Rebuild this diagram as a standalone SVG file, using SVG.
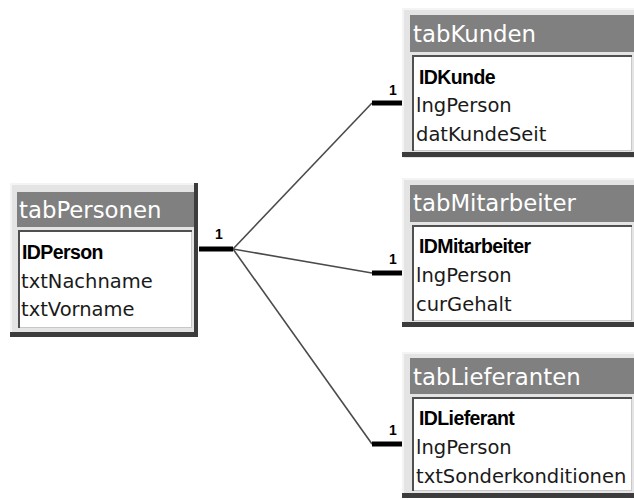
<svg xmlns="http://www.w3.org/2000/svg" width="634" height="500" viewBox="0 0 634 500">
<style>
.frame{fill:#e4e4e4;}
.hl{fill:#f4f4f4;}
.sh{fill:#3c3c3c;}
.title{fill:#808080;}
.box{fill:#ffffff;stroke:none;}
.boxdark{fill:#505050;}
.boxlight{fill:#c8c8c8;}
.tt{font-family:"DejaVu Sans",sans-serif;font-size:22.8px;fill:#ffffff;}
.f{font-family:"DejaVu Sans",sans-serif;font-size:19.5px;fill:#1a1a1a;}
.k{font-family:"Liberation Sans",sans-serif;font-size:19.5px;font-weight:bold;fill:#000000;letter-spacing:-0.6px;}
.one{font-family:"Liberation Sans",sans-serif;font-size:14px;font-weight:bold;fill:#000000;}
.ln{stroke:#4a4a4a;stroke-width:1.6;fill:none;}
.stub{stroke:#000000;stroke-width:5;fill:none;}
</style>
<rect width="634" height="500" fill="#ffffff"/>

<g id="connectors">
<line class="ln" x1="233" y1="249" x2="372" y2="103"/>
<line class="ln" x1="233" y1="249" x2="372" y2="273"/>
<line class="ln" x1="233" y1="249" x2="372" y2="444"/>
<line class="stub" x1="199" y1="249" x2="233" y2="249"/>
<line class="stub" x1="372" y1="103" x2="402" y2="103"/>
<line class="stub" x1="372" y1="273" x2="402" y2="273"/>
<line class="stub" x1="372" y1="444" x2="402" y2="444"/>
<text class="one" x="215" y="239">1</text>
<text class="one" x="389" y="95">1</text>
<text class="one" x="389" y="264">1</text>
<text class="one" x="389" y="435">1</text>
</g>

<g id="tabPersonen">
<rect class="frame" x="10" y="183" width="188" height="154"/>
<rect class="hl" x="10" y="183" width="188" height="2"/>
<rect class="hl" x="10" y="183" width="2" height="154"/>
<rect class="sh" x="194" y="183" width="4" height="154"/>
<rect class="sh" x="10" y="332" width="188" height="5"/>
<rect class="title" x="17" y="192" width="177" height="35"/>
<text class="tt" x="19" y="218">tabPersonen</text>
<rect class="boxlight" x="18" y="230" width="174" height="98"/>
<rect class="box" x="20" y="232" width="171" height="95"/>
<rect class="boxdark" x="18" y="230" width="174" height="2"/>
<rect class="boxdark" x="18" y="230" width="2" height="98"/>
<text class="k" x="22" y="259">IDPerson</text>
<text class="f" x="21" y="288">txtNachname</text>
<text class="f" x="21" y="316">txtVorname</text>
</g>

<g id="tabKunden">
<rect class="frame" x="402" y="8" width="232" height="150"/>
<rect class="hl" x="402" y="8" width="232" height="2"/>
<rect class="hl" x="402" y="8" width="2" height="150"/>
<rect class="sh" x="402" y="152" width="232" height="5"/>
<rect class="title" x="410" y="15" width="224" height="37"/>
<text class="tt" x="413" y="42">tabKunden</text>
<rect class="boxlight" x="412" y="55" width="220" height="96"/>
<rect class="box" x="414" y="57" width="217" height="93"/>
<rect class="boxdark" x="412" y="55" width="220" height="2"/>
<rect class="boxdark" x="412" y="55" width="2" height="96"/>
<text class="k" x="419" y="84">IDKunde</text>
<text class="f" x="416" y="112">lngPerson</text>
<text class="f" x="416" y="141">datKundeSeit</text>
</g>

<g id="tabMitarbeiter">
<rect class="frame" x="402" y="178" width="232" height="149"/>
<rect class="hl" x="402" y="178" width="232" height="2"/>
<rect class="hl" x="402" y="178" width="2" height="149"/>
<rect class="sh" x="402" y="322" width="232" height="5"/>
<rect class="title" x="410" y="185" width="224" height="37"/>
<text class="tt" x="413" y="211">tabMitarbeiter</text>
<rect class="boxlight" x="412" y="225" width="220" height="96"/>
<rect class="box" x="414" y="227" width="217" height="93"/>
<rect class="boxdark" x="412" y="225" width="220" height="2"/>
<rect class="boxdark" x="412" y="225" width="2" height="96"/>
<text class="k" x="419" y="253">IDMitarbeiter</text>
<text class="f" x="416" y="282">lngPerson</text>
<text class="f" x="416" y="311">curGehalt</text>
</g>

<g id="tabLieferanten">
<rect class="frame" x="402" y="352" width="232" height="146"/>
<rect class="hl" x="402" y="352" width="232" height="2"/>
<rect class="hl" x="402" y="352" width="2" height="146"/>
<rect class="sh" x="402" y="493" width="232" height="5"/>
<rect class="title" x="410" y="358" width="224" height="36"/>
<text class="tt" x="413" y="385">tabLieferanten</text>
<rect class="boxlight" x="412" y="397" width="220" height="94"/>
<rect class="box" x="414" y="399" width="217" height="91"/>
<rect class="boxdark" x="412" y="397" width="220" height="2"/>
<rect class="boxdark" x="412" y="397" width="2" height="94"/>
<text class="k" x="419" y="425">IDLieferant</text>
<text class="f" x="416" y="454">lngPerson</text>
<text class="f" x="416" y="483">txtSonderkonditionen</text>
</g>
</svg>
